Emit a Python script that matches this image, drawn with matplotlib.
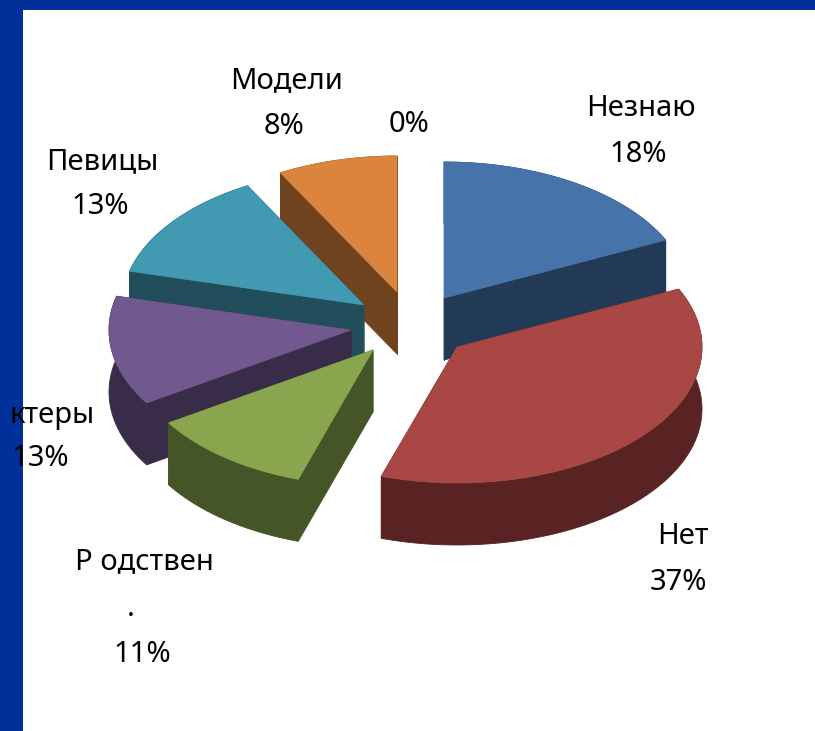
#import modules needed
import numpy as np
import matplotlib.pyplot as plt
from matplotlib.patches import Rectangle

#chart data
names = ['Незнаю', 'Нет', 'Родствен', 'Актеры', 'Певицы', 'Модели', 'Другое']
shares = [18, 37, 11, 13, 13, 8, 0]

#look of the slices
top_colors = ['#4674AA', '#A94744', '#89A64E', '#71588F', '#4199B2', '#DB843D']
wall_colors = ['#233A57', '#582322', '#465527', '#392C48', '#214E5A', '#70431F']
apex = [(444, 298), (457, 347), (373, 350), (351, 330), (364, 305), (397, 292)]
rx = [245, 245, 242, 242, 242, 242]
ry = 136
depth = 62
draw_order = [0, 5, 4, 3, 2, 1]  #back to front

#labels, one entry per line of text
label_lines = ['Модели', '8%', '0%', 'Незнаю', '18%', 'Нет', '37%',
               'Р одствен', '.', '11%', 'ктеры', '13%', 'Певицы', '13%']
label_x = [287, 284, 409, 641, 638, 683, 678, 144, 131, 142, 52, 40, 102, 100]
label_y = [81, 126, 124, 108, 154, 537, 583, 562, 608, 655, 415, 459, 162, 207]

plt.rcParams['font.family'] = ['Noto Sans', 'DejaVu Sans']

fig = plt.figure(figsize=(8.15, 7.31), dpi=100)
ax = fig.add_axes([0, 0, 1, 1])
ax.set_xlim(0, 815)
ax.set_ylim(731, 0)
ax.axis('off')

#blue slide frame
ax.add_patch(Rectangle((0, 0), 815, 731, fc='#00309A', ec='none', zorder=0))
ax.add_patch(Rectangle((23, 10), 792, 721, fc='white', ec='none', zorder=0))

#angles run clockwise from 12 o'clock
edges = np.cumsum([0] + shares) / sum(shares) * 2 * np.pi


def sector(center, radius, a0, a1):
    a = np.linspace(a0, a1, 80)
    xs = center[0] + radius * np.sin(a)
    ys = center[1] - ry * np.cos(a)
    return np.r_[center[0], xs], np.r_[center[1], ys]


for z, i in enumerate(draw_order):
    xs, ys = sector(apex[i], rx[i], edges[i], edges[i + 1])
    wall = dict(fc=wall_colors[i], ec=wall_colors[i], lw=0.6, zorder=2 + z)
    #the two cut faces
    for e in (1, len(xs) - 1):
        ax.fill([xs[0], xs[e], xs[e], xs[0]],
                [ys[0], ys[e], ys[e] + depth, ys[0] + depth], **wall)
    #the outer rim in one piece
    ax.fill(np.r_[xs[1:], xs[:0:-1]], np.r_[ys[1:], ys[:0:-1] + depth], **wall)
    ax.fill(xs, ys, fc=top_colors[i], ec=top_colors[i], lw=0.5, zorder=2 + z)

for txt, x, y in zip(label_lines, label_x, label_y):
    ax.text(x, y, txt, ha='center', va='center', fontsize=21,
            color='black', zorder=20)

plt.savefig('out.png', dpi=100)
